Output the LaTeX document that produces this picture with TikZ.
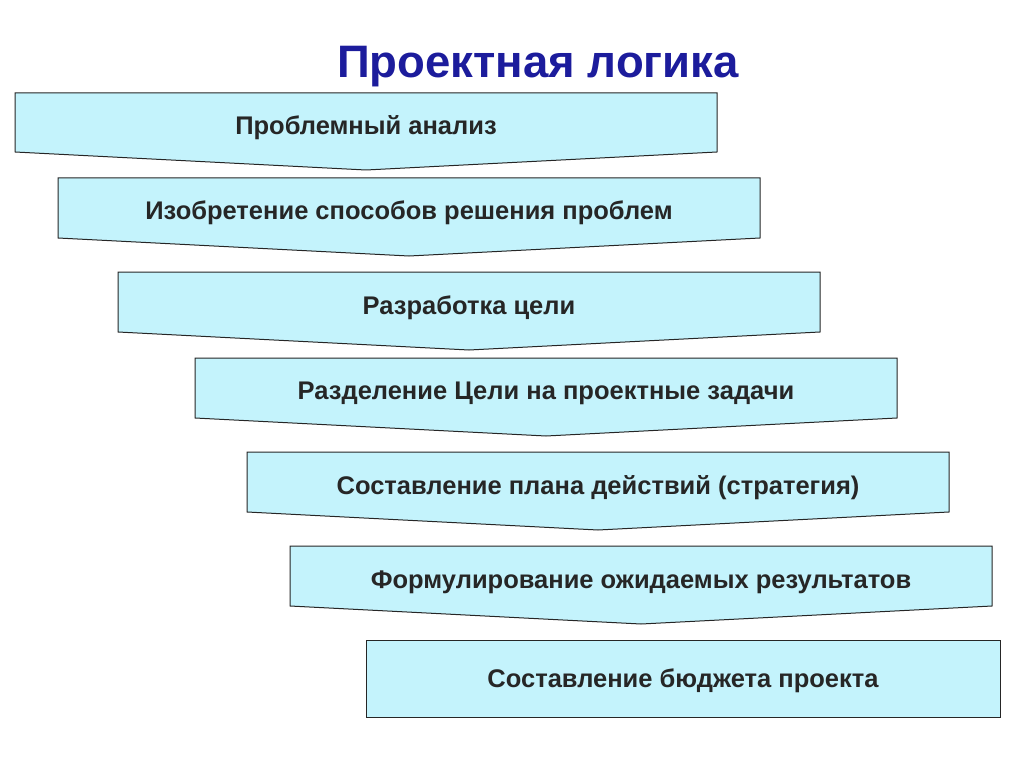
\documentclass[tikz,border=0pt]{standalone}
\usepackage{fontspec}
\setmainfont{Liberation Sans}
\usepackage{tikz}
\usetikzlibrary{calc}
\definecolor{boxfill}{HTML}{C4F3FC}
\definecolor{titleblue}{HTML}{1C1C9C}
\tikzset{
  stepshape/.style={draw=black!85, fill=boxfill, line width=1pt},
  steptext/.style={font=\fontsize{25.5}{30}\selectfont\bfseries, text=black!85}
}
\begin{document}
\begin{tikzpicture}[x=1pt, y=-1pt]
    \useasboundingbox (0,0) rectangle (1024,767);
    % Title
    \node [font=\fontsize{45.5}{52}\selectfont\bfseries, text=titleblue] (title) at (538,67) {Проектная логика};
    % Steps
    \draw [stepshape] (15,93) -- (717,93) -- (717,152) -- (366,170) -- (15,152) -- cycle;
    \node [steptext] (s1) at (366,128) {Проблемный анализ};
    \draw [stepshape] (58,178) -- (760,178) -- (760,238) -- (409,256) -- (58,238) -- cycle;
    \node [steptext] (s2) at (409,213) {Изобретение способов решения проблем};
    \draw [stepshape] (118,272) -- (820,272) -- (820,332) -- (469,350) -- (118,332) -- cycle;
    \node [steptext] (s3) at (469,308) {Разработка цели};
    \draw [stepshape] (195,358) -- (897,358) -- (897,418) -- (546,436) -- (195,418) -- cycle;
    \node [steptext] (s4) at (546,393) {Разделение Цели на проектные задачи};
    \draw [stepshape] (247,452) -- (949,452) -- (949,512) -- (598,530) -- (247,512) -- cycle;
    \node [steptext] (s5) at (598,488) {Составление плана действий (стратегия)};
    \draw [stepshape] (290,546) -- (992,546) -- (992,606) -- (641,624) -- (290,606) -- cycle;
    \node [steptext] (s6) at (641,582) {Формулирование ожидаемых результатов};
    \draw [stepshape] (366,640) rectangle (1000,717);
    \node [steptext] (s7) at (683,681) {Составление бюджета проекта};
\end{tikzpicture}
\end{document}
